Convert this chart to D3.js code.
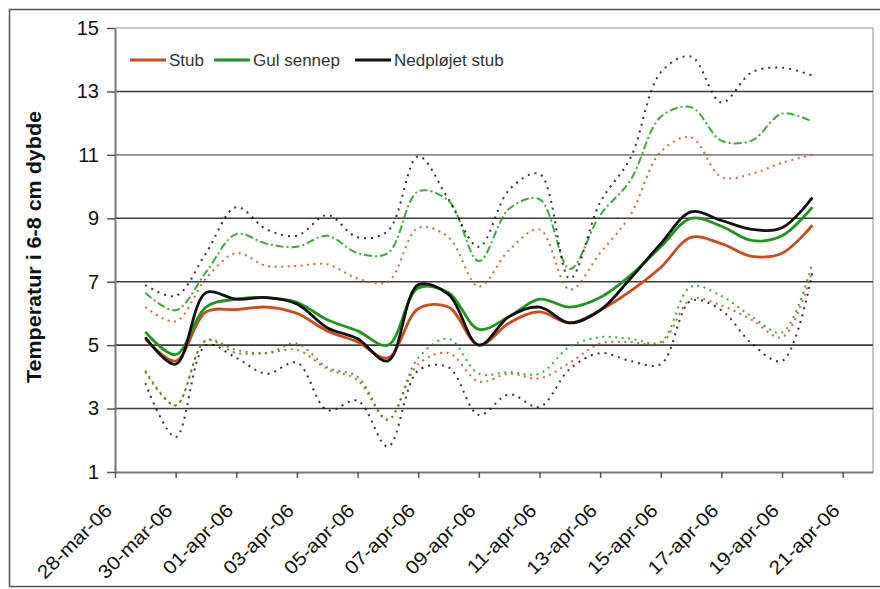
<!DOCTYPE html>
<html>
<head>
<meta charset="utf-8">
<script src="https://cdn.jsdelivr.net/npm/d3@7"></script>
<style>
  body { margin: 0; background: #fff; }
  svg { display: block; font-family: Arial, "Liberation Sans", sans-serif; }
</style>
</head>
<body>
<div id="chart"></div>
<script>
//////////////////////////// data ////////////////////////////////////////

const days = [
  "2006-03-29", "2006-03-30", "2006-03-31", "2006-04-01", "2006-04-02",
  "2006-04-03", "2006-04-04", "2006-04-05", "2006-04-06", "2006-04-07",
  "2006-04-08", "2006-04-09", "2006-04-10", "2006-04-11", "2006-04-12",
  "2006-04-13", "2006-04-14", "2006-04-15", "2006-04-16", "2006-04-17",
  "2006-04-18", "2006-04-19", "2006-04-20"
];

// Stub
const stubMean = [5.2, 4.5, 6.05, 6.12, 6.2, 6.0, 5.45, 5.1, 4.6, 6.15, 6.2, 5.0, 5.7, 6.05, 5.7, 6.1, 6.7, 7.45, 8.4, 8.2, 7.8, 7.9, 8.78];
const stubMax = [6.2, 5.75, 7.1, 7.9, 7.5, 7.5, 7.55, 7.1, 7.0, 8.7, 8.4, 6.85, 8.0, 8.65, 6.75, 7.9, 9.1, 11.1, 11.55, 10.3, 10.4, 10.75, 11.0];
const stubMin = [4.15, 3.1, 5.15, 4.75, 4.75, 4.85, 4.25, 3.9, 2.65, 4.4, 4.75, 3.85, 4.1, 3.95, 4.45, 5.05, 5.1, 5.05, 6.45, 6.25, 5.8, 5.25, 7.35];

// Gul sennep
const sennepMean = [5.42, 4.7, 6.2, 6.45, 6.5, 6.35, 5.8, 5.45, 5.0, 6.8, 6.65, 5.5, 5.9, 6.45, 6.2, 6.5, 7.2, 8.1, 9.0, 8.75, 8.3, 8.45, 9.35];
const sennepMax = [6.65, 6.1, 7.3, 8.5, 8.2, 8.1, 8.45, 7.9, 7.9, 9.85, 9.55, 7.65, 9.3, 9.6, 7.4, 9.1, 10.2, 12.2, 12.5, 11.45, 11.45, 12.3, 12.05];
const sennepMin = [4.2, 3.1, 5.15, 4.85, 4.75, 5.05, 4.3, 4.0, 2.65, 4.6, 5.2, 4.1, 4.15, 4.1, 4.95, 5.25, 5.2, 5.1, 6.85, 6.55, 5.9, 5.4, 7.6];

// Nedpløjet stub
const nedMean = [5.25, 4.4, 6.65, 6.45, 6.5, 6.3, 5.55, 5.2, 4.5, 6.9, 6.6, 5.0, 5.9, 6.2, 5.7, 6.1, 7.1, 8.2, 9.2, 8.93, 8.65, 8.7, 9.65];
const nedMax = [6.9, 6.55, 7.9, 9.35, 8.65, 8.45, 9.1, 8.4, 8.6, 10.95, 9.6, 8.1, 9.9, 10.4, 7.1, 9.5, 10.9, 13.6, 14.1, 12.65, 13.6, 13.75, 13.5];
const nedMin = [3.8, 2.1, 5.0, 4.6, 4.1, 4.45, 2.95, 3.25, 1.8, 4.2, 4.3, 2.8, 3.45, 3.05, 4.25, 4.75, 4.5, 4.4, 6.4, 6.1, 5.05, 4.5, 7.3];

const seriesNames = ["Stub", "Gul sennep", "Nedpløjet stub"];

const xTickLabels = [
  "28-mar-06", "30-mar-06", "01-apr-06", "03-apr-06", "05-apr-06", "07-apr-06",
  "09-apr-06", "11-apr-06", "13-apr-06", "15-apr-06", "17-apr-06", "19-apr-06", "21-apr-06"
];
const yTicks = [1, 3, 5, 7, 9, 11, 13, 15];

const yTitle = "Temperatur i 6-8 cm dybde";

//////////////////////////// helpers /////////////////////////////////////

const monthIdx = { jan: 0, feb: 1, mar: 2, apr: 3, maj: 4, jun: 5 };
const parseLabel = (s) => {
  const [d, m, y] = s.split("-");
  return new Date(2000 + +y, monthIdx[m], +d);
};
const parseDay = d3.timeParse("%Y-%m-%d");
const dayDates = days.map(parseDay);
const tickDates = xTickLabels.map(parseLabel);

const toPoints = (vals) => vals.map((v, i) => ({ date: dayDates[i], v }));

const series = [
  { name: seriesNames[0], color: "#cc4a1c", mean: stubMean, max: stubMax, min: stubMin, maxDash: "2,4.5", minDash: "2,4.5" },
  { name: seriesNames[1], color: "#1e961e", mean: sennepMean, max: sennepMax, min: sennepMin, maxDash: "8,3,2,3", minDash: "2,4.5" },
  { name: seriesNames[2], color: "#111111", mean: nedMean, max: nedMax, min: nedMin, maxDash: "2,5", minDash: "2,5" }
];

//////////////////////////// svg /////////////////////////////////////////

const width = 880;
const height = 589;
const plot = { left: 115, right: 873, top: 28, bottom: 472 };

const svg = d3.select("#chart").append("svg")
  .attr("width", width)
  .attr("height", height);

// outer frame
svg.append("rect")
  .attr("x", 9.5).attr("y", 9.5)
  .attr("width", 900).attr("height", 577)
  .attr("fill", "#fff")
  .attr("stroke", "#555")
  .attr("stroke-width", 1.5);

//////////////////////////// scales //////////////////////////////////////

const x = d3.scaleTime()
  .domain([new Date(2006, 2, 28), new Date(2006, 3, 22)])
  .range([plot.left, plot.right]);

const y = d3.scaleLinear()
  .domain([1, 15])
  .range([plot.bottom, plot.top]);

//////////////////////////// grid ////////////////////////////////////////

// plot border (light) top and right
svg.append("line")
  .attr("x1", plot.left).attr("x2", plot.right)
  .attr("y1", y(15)).attr("y2", y(15))
  .attr("stroke", "#c8c8c8").attr("stroke-width", 2);
svg.append("line")
  .attr("x1", plot.right).attr("x2", plot.right)
  .attr("y1", plot.top).attr("y2", plot.bottom)
  .attr("stroke", "#c8c8c8").attr("stroke-width", 2);

svg.append("g")
  .selectAll("line")
  .data(yTicks.filter((t) => t > 1 && t < 15))
  .join("line")
  .attr("x1", plot.left).attr("x2", plot.right)
  .attr("y1", (d) => y(d)).attr("y2", (d) => y(d))
  .attr("stroke", (d) => (d === 11 ? "#8a8a8a" : "#3c3c3c"))
  .attr("stroke-width", 1.6);

//////////////////////////// axes ////////////////////////////////////////

const yAxis = svg.append("g")
  .attr("transform", `translate(${plot.left},0)`)
  .call(d3.axisLeft(y).tickValues(yTicks).tickSize(8).tickPadding(8).tickSizeOuter(0));
yAxis.select(".domain").attr("stroke", "#777").attr("stroke-width", 2);
yAxis.selectAll(".tick line").attr("stroke", "#555").attr("stroke-width", 1.5);
yAxis.selectAll(".tick text")
  .attr("font-size", 20)
  .attr("font-family", "Arial, 'Liberation Sans', sans-serif")
  .attr("fill", "#111");

const xAxis = svg.append("g")
  .attr("transform", `translate(0,${plot.bottom})`)
  .call(d3.axisBottom(x).tickValues(tickDates).tickSize(6).tickSizeOuter(0)
    .tickFormat((d, i) => xTickLabels[i]));
xAxis.select(".domain").attr("stroke", "#777").attr("stroke-width", 2);
xAxis.selectAll(".tick line").attr("stroke", "#555").attr("stroke-width", 1.5);
xAxis.selectAll(".tick text")
  .attr("font-size", 19)
  .attr("font-family", "Arial, 'Liberation Sans', sans-serif")
  .attr("fill", "#111")
  .attr("text-anchor", "end")
  .attr("dominant-baseline", "central")
  .attr("y", 0).attr("dy", null)
  .attr("transform", "translate(-7,35) rotate(-45) scale(1.1,1)");

// y title
svg.append("text")
  .attr("transform", `translate(41,247) rotate(-90)`)
  .attr("text-anchor", "middle")
  .attr("font-size", 20)
  .attr("font-weight", "bold")
  .attr("fill", "#111")
  .attr("textLength", 272)
  .attr("lengthAdjust", "spacingAndGlyphs")
  .text(yTitle);

//////////////////////////// lines ///////////////////////////////////////

const line = d3.line()
  .x((d) => x(d.date))
  .y((d) => y(d.v))
  .curve(d3.curveCatmullRom.alpha(0.5));

const bands = svg.append("g").attr("fill", "none");
series.forEach((s) => {
  bands.append("path")
    .attr("d", line(toPoints(s.max)))
    .attr("stroke", s.color)
    .attr("stroke-width", 2)
    .attr("stroke-opacity", 0.85)
    .attr("stroke-dasharray", s.maxDash);
  bands.append("path")
    .attr("d", line(toPoints(s.min)))
    .attr("stroke", s.color)
    .attr("stroke-width", 2)
    .attr("stroke-opacity", 0.85)
    .attr("stroke-dasharray", s.minDash);
});

const means = svg.append("g").attr("fill", "none");
series.forEach((s) => {
  means.append("path")
    .attr("d", line(toPoints(s.mean)))
    .attr("stroke", s.color)
    .attr("stroke-width", 2.8)
    .attr("stroke-linejoin", "round");
});

//////////////////////////// legend //////////////////////////////////////

const legendPos = [130, 214, 355];
const legend = svg.append("g").attr("transform", "translate(0,60)");
series.forEach((s, i) => {
  const g = legend.append("g").attr("transform", `translate(${legendPos[i]},0)`);
  g.append("line")
    .attr("x1", 0).attr("x2", 36)
    .attr("stroke", s.color)
    .attr("stroke-width", 3);
  g.append("text")
    .attr("x", 39)
    .attr("dy", "0.35em")
    .attr("font-size", 17)
    .attr("fill", "#333")
    .text(s.name);
});
</script>
</body>
</html>
